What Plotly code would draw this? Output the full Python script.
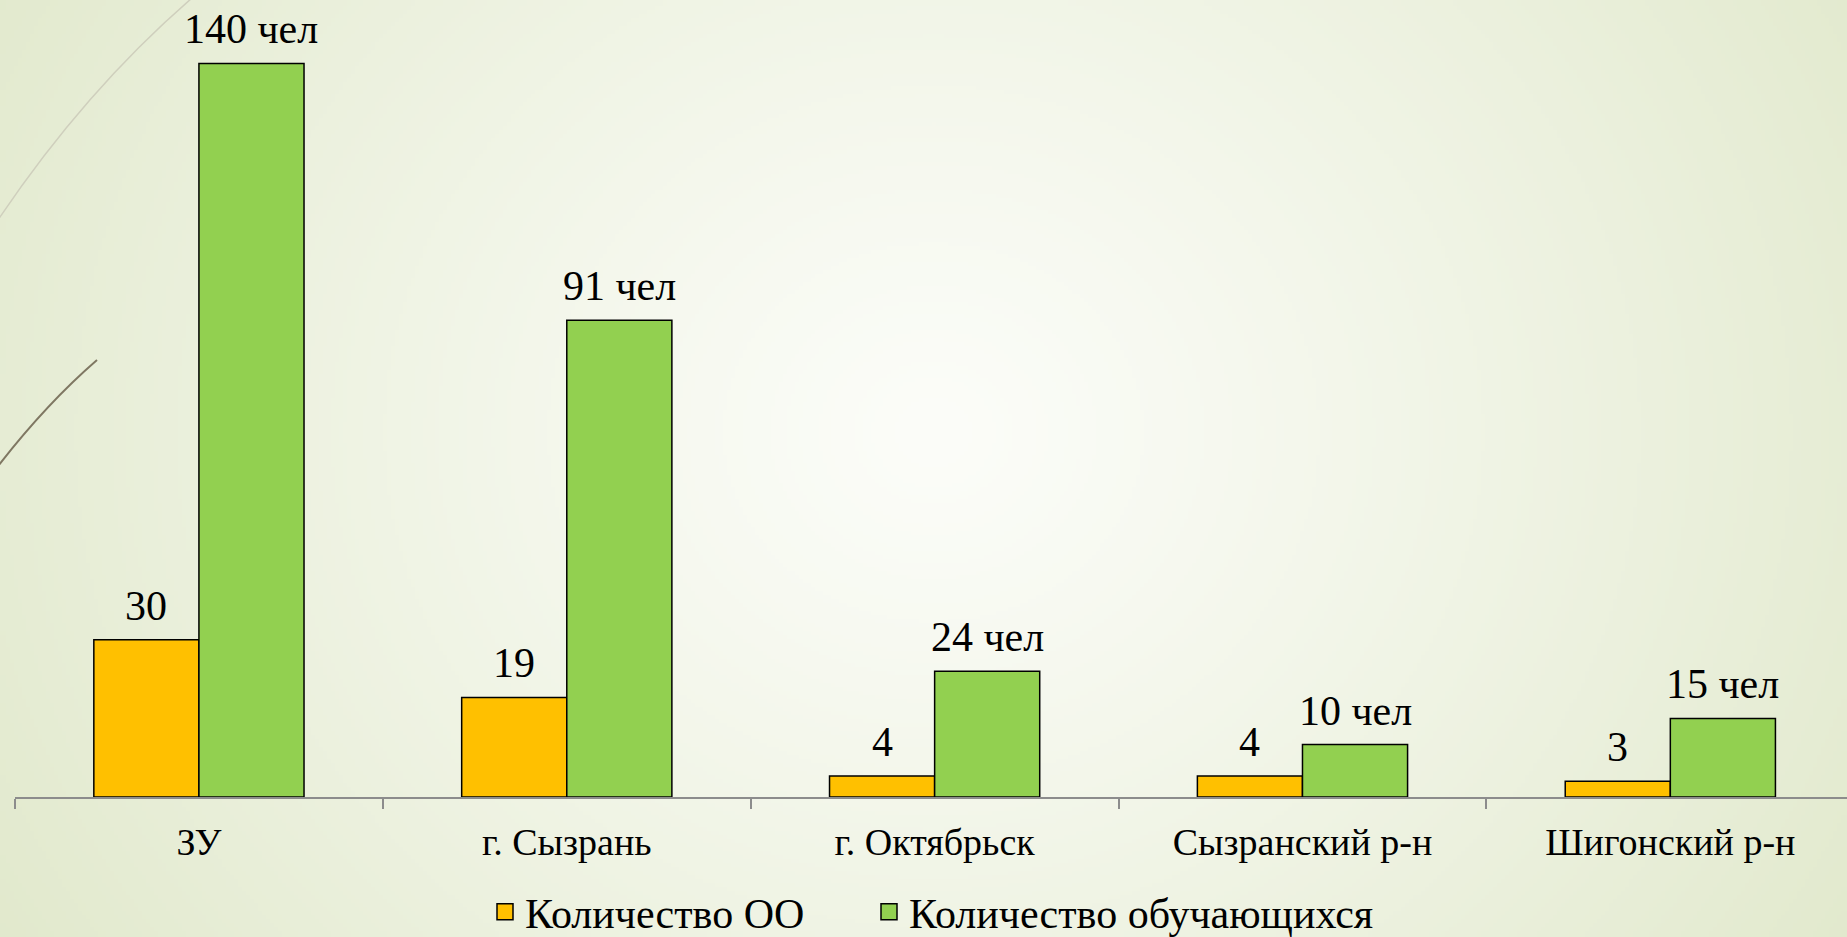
import base64
import struct
import zlib

import numpy as np
import plotly.graph_objects as go

# ---------------- data ----------------
categories = ["ЗУ", "г. Сызрань", "г. Октябрьск", "Сызранский р-н", "Шигонский р-н"]
oo_counts = [30, 19, 4, 4, 3]
student_counts = [140, 91, 24, 10, 15]
series_names = ["Количество ОО", "Количество обучающихся"]
student_suffix = " чел"

# ---------------- geometry ----------------
W, H = 1847, 937
ML, MR, MT, MB = 15, 0, 11, 140
PW, PH = W - ML - MR, H - MT - MB
CAT_PX = 367.85
X_RANGE = [-0.5, -0.5 + PW / CAT_PX]
Y_RANGE = [0, 150]

FONT = "Liberation Serif, Times New Roman, serif"
ORANGE = "#FFC000"
GREEN = "#92D050"
colors = [ORANGE, GREEN]


def px_to_paper_x(px):
    return (px - ML) / PW


def px_to_paper_y(py):
    return (H - MB - py) / PH


# ---------------- background gradient image ----------------
def make_png(arr):
    h, w, _ = arr.shape
    raw = b"".join(b"\x00" + arr[y].tobytes() for y in range(h))

    def chunk(tag, data):
        return (struct.pack(">I", len(data)) + tag + data
                + struct.pack(">I", zlib.crc32(tag + data) & 0xFFFFFFFF))

    return (b"\x89PNG\r\n\x1a\n"
            + chunk(b"IHDR", struct.pack(">IIBBBBB", w, h, 8, 2, 0, 0, 0))
            + chunk(b"IDAT", zlib.compress(raw, 9))
            + chunk(b"IEND", b""))


sc = 4
gw, gh = W // sc, H // sc
yy, xx = np.mgrid[0:gh, 0:gw].astype(float)
cx, cy = 930 / sc, 430 / sc
d = np.sqrt(((xx - cx) / (1000 / sc)) ** 2 + ((yy - cy) / (900 / sc)) ** 2)
t = np.clip(d, 0, 1.15) / 1.15
t = t ** 1.15
c0 = np.array([252, 253, 249], float)
c1 = np.array([224, 232, 202], float)
img = (c0[None, None, :] * (1 - t[..., None]) + c1[None, None, :] * t[..., None])
img = np.clip(img, 0, 255).astype(np.uint8)
bg_src = "data:image/png;base64," + base64.b64encode(make_png(img)).decode()

# ---------------- figure ----------------
fig = go.Figure()
for name, vals, col in zip(series_names, [oo_counts, student_counts], colors):
    fig.add_trace(go.Bar(
        x=categories, y=vals, name=name, showlegend=False,
        marker=dict(color=col, line=dict(color="black", width=1.5)),
        hoverinfo="x+y",
    ))
# legend entries with larger square swatches (one legend per series)
for name, col, leg in zip(series_names, colors, ["legend", "legend2"]):
    fig.add_trace(go.Scatter(
        x=[None], y=[None], name=name, mode="markers", legend=leg,
        marker=dict(symbol="square", size=22, color=col,
                    line=dict(color="black", width=1.5)),
        hoverinfo="skip",
    ))

bar_off = 1 / 3.5
annotations = []
for i, cat in enumerate(categories):
    annotations.append(dict(
        x=i - bar_off / 2, y=oo_counts[i], xref="x", yref="y",
        text=str(oo_counts[i]), showarrow=False, yanchor="bottom", yshift=9,
        font=dict(family=FONT, size=42, color="black"),
    ))
    annotations.append(dict(
        x=i + bar_off / 2, y=student_counts[i], xref="x", yref="y",
        text=f"{student_counts[i]}{student_suffix}", showarrow=False,
        yanchor="bottom", yshift=9,
        font=dict(family=FONT, size=42, color="black"),
    ))


def path_px(points_cmd):
    out = []
    for tok in points_cmd:
        if isinstance(tok, str):
            out.append(tok)
        else:
            out.append(f"{px_to_paper_x(tok[0]):.5f},{px_to_paper_y(tok[1]):.5f}")
    return " ".join(out)


shapes = [
    dict(type="path", xref="paper", yref="paper", layer="below",
         path=path_px(["M", (-10, 232), "Q", (80, 95), (192, -2)]),
         line=dict(color="#cfcfbd", width=1.5)),
    dict(type="path", xref="paper", yref="paper", layer="below",
         path=path_px(["M", (-5, 470), "Q", (45, 405), (97, 360)]),
         line=dict(color="#7f7762", width=2)),
]

legend_common = dict(
    orientation="h", xanchor="left",
    yref="container", y=1 - 912 / H, yanchor="middle",
    xref="container",
    font=dict(family=FONT, size=42, color="black"),
    bgcolor="rgba(0,0,0,0)",
    itemsizing="trace",
)

fig.update_layout(
    width=W, height=H,
    margin=dict(l=ML, r=MR, t=MT, b=MB, pad=0, autoexpand=False),
    paper_bgcolor="#eef2e2",
    plot_bgcolor="rgba(0,0,0,0)",
    barmode="group", bargap=1.5 / 3.5, bargroupgap=0,
    font=dict(family=FONT, color="black"),
    xaxis=dict(
        range=X_RANGE, showgrid=False, zeroline=False,
        showline=True, linecolor="#8c8c8c", linewidth=2,
        ticks="outside", tickson="boundaries", ticklen=10, tickwidth=2,
        tickcolor="#8c8c8c", tickfont=dict(family=FONT, size=38, color="black"),
        ticklabelstandoff=10,
        fixedrange=True,
    ),
    yaxis=dict(range=Y_RANGE, visible=False, fixedrange=True),
    legend=dict(x=485 / W, **legend_common),
    legend2=dict(x=869 / W, **legend_common),
    annotations=annotations,
    shapes=shapes,
    images=[dict(
        source=bg_src, xref="paper", yref="paper",
        x=px_to_paper_x(0), y=px_to_paper_y(0),
        sizex=W / PW, sizey=H / PH,
        xanchor="left", yanchor="top", sizing="stretch", layer="below",
    )],
    showlegend=True,
)

fig.write_html(
    "out.html",
    config={"displayModeBar": False},
    post_script="document.body.style.margin='0';document.body.style.overflow='hidden';",
)
